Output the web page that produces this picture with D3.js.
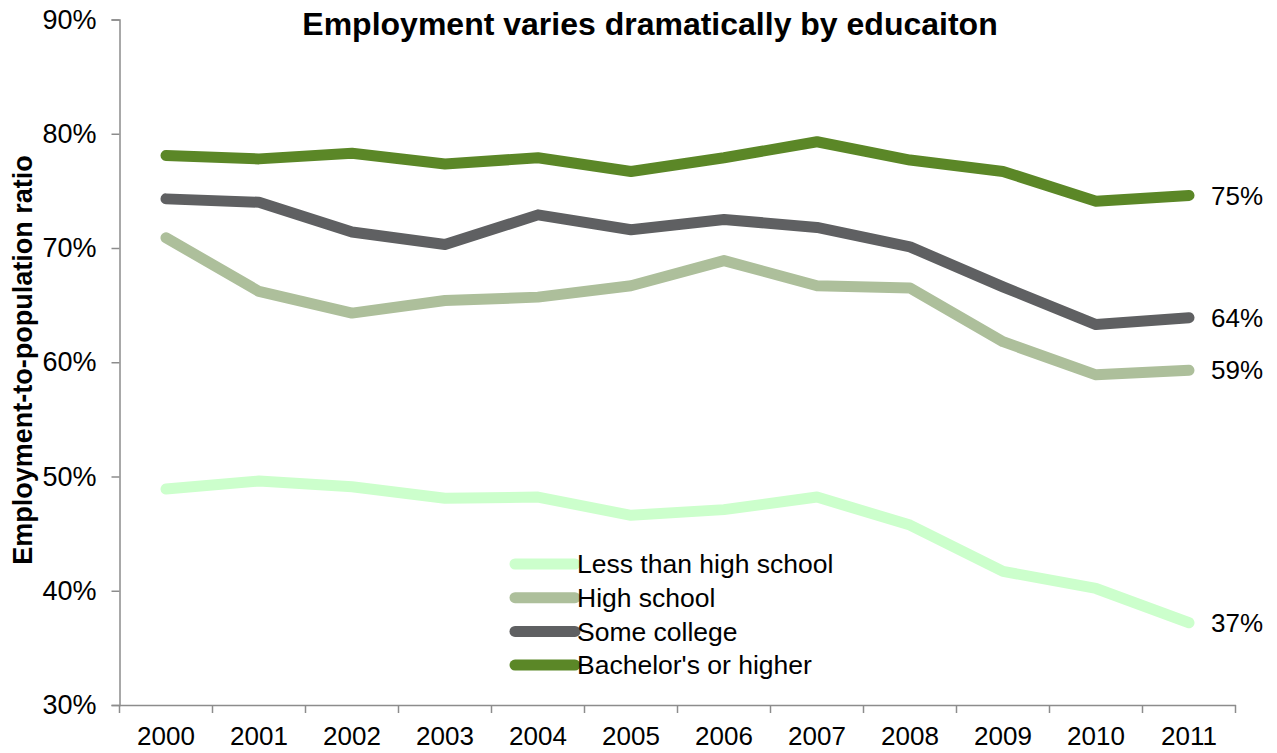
<!DOCTYPE html>
<html>
<head>
<meta charset="utf-8">
<script src="https://cdn.jsdelivr.net/npm/d3@7"></script>
<style>
  html, body { margin: 0; padding: 0; background: #fff; }
  svg { display: block; font-family: "Liberation Sans", Arial, sans-serif; }
</style>
</head>
<body>
<svg id="chart" width="1277" height="753"></svg>
<script>
// Employment-to-population ratio by educational attainment, 2000–2011
const years = ["2000", "2001", "2002", "2003", "2004", "2005", "2006", "2007", "2008", "2009", "2010", "2011"];

const lessThanHighSchool = [0.489, 0.496, 0.491, 0.481, 0.482, 0.466, 0.471, 0.482, 0.4575, 0.417, 0.402, 0.372];
const highSchool         = [0.709, 0.662, 0.643, 0.654, 0.657, 0.667, 0.689, 0.667, 0.665, 0.618, 0.589, 0.593];
const someCollege        = [0.743, 0.740, 0.714, 0.703, 0.729, 0.716, 0.725, 0.718, 0.701, 0.666, 0.633, 0.639];
const bachelorsOrHigher  = [0.781, 0.778, 0.783, 0.7735, 0.779, 0.767, 0.779, 0.793, 0.777, 0.767, 0.741, 0.746];

const seriesNames  = ["Less than high school", "High school", "Some college", "Bachelor's or higher"];
const seriesValues = [lessThanHighSchool, highSchool, someCollege, bachelorsOrHigher];
const seriesColors = ["#ccffcc", "#adbf9b", "#5f6062", "#5b8727"];

const yTicks = [0.3, 0.4, 0.5, 0.6, 0.7, 0.8, 0.9];

const chartTitle = "Employment varies dramatically by educaiton";
const yAxisTitle = "Employment-to-population ratio";

const svg = d3.select("#chart");

const x = d3.scaleBand().domain(years).range([119.5, 1235.5]);
const y = d3.scaleLinear().domain([0.3, 0.9]).range([705, 19.5]);
const cx = d => x(d) + x.bandwidth() / 2;

const axisColor = "#8c8c8c";
const fontSize = 26;

// Y axis
const yAxis = svg.append("g")
  .attr("transform", `translate(${x.range()[0]},0)`)
  .call(d3.axisLeft(y).tickValues(yTicks).tickSize(8).tickPadding(15).tickFormat(d3.format(".0%")));
yAxis.select(".domain").attr("stroke", axisColor).attr("stroke-width", 1.5);
yAxis.selectAll(".tick line").attr("stroke", axisColor).attr("stroke-width", 1.5);
yAxis.selectAll(".tick text").attr("font-size", 27).attr("fill", "#000")
  .attr("font-family", "Liberation Sans, Arial, sans-serif");

// X axis: labels centred on each year, tick marks on band boundaries
const xAxis = svg.append("g")
  .attr("transform", `translate(0,${y(0.3)})`)
  .call(d3.axisBottom(x).tickSize(0).tickPadding(22));
xAxis.select(".domain").attr("stroke", axisColor).attr("stroke-width", 1.5);
xAxis.selectAll(".tick text").attr("font-size", fontSize).attr("fill", "#000")
  .attr("font-family", "Liberation Sans, Arial, sans-serif");
const boundaries = years.map(d => x(d)).concat([x.range()[1]]);
xAxis.selectAll("line.boundary")
  .data(boundaries)
  .join("line")
  .attr("class", "boundary")
  .attr("x1", d => d).attr("x2", d => d)
  .attr("y1", 0).attr("y2", 8)
  .attr("stroke", axisColor).attr("stroke-width", 1.5);

// Series lines
const line = d3.line()
  .x((v, i) => cx(years[i]))
  .y(v => y(v));

svg.append("g")
  .selectAll("path")
  .data(seriesValues)
  .join("path")
  .attr("d", d => line(d))
  .attr("fill", "none")
  .attr("stroke", (d, i) => seriesColors[i])
  .attr("stroke-width", 11)
  .attr("stroke-linecap", "round")
  .attr("stroke-linejoin", "round");

// End-of-line value labels
const last = years.length - 1;
svg.append("g")
  .selectAll("text")
  .data(seriesValues)
  .join("text")
  .attr("x", cx(years[last]) + 22)
  .attr("y", d => y(d[last]))
  .attr("dy", "0.35em")
  .attr("font-size", fontSize)
  .attr("fill", "#000")
  .text(d => d3.format(".0%")(d[last]));

// Legend
const legend = svg.append("g").attr("transform", "translate(515,564)");
const rows = legend.selectAll("g")
  .data(seriesNames)
  .join("g")
  .attr("transform", (d, i) => `translate(0,${i * 33.7})`);
rows.append("line")
  .attr("x1", 0).attr("x2", 60)
  .attr("y1", 0).attr("y2", 0)
  .attr("stroke", (d, i) => seriesColors[i])
  .attr("stroke-width", 11)
  .attr("stroke-linecap", "round");
rows.append("text")
  .attr("x", 62)
  .attr("y", 0)
  .attr("dy", "0.35em")
  .attr("font-size", 26.5)
  .attr("fill", "#000")
  .text(d => d);

// Title
svg.append("text")
  .attr("x", 650)
  .attr("y", 35)
  .attr("text-anchor", "middle")
  .attr("font-size", 32)
  .attr("font-weight", "bold")
  .attr("fill", "#000")
  .text(chartTitle);

// Y axis title
svg.append("text")
  .attr("transform", "translate(32,360) rotate(-90)")
  .attr("text-anchor", "middle")
  .attr("font-size", 27)
  .attr("font-weight", "bold")
  .attr("fill", "#000")
  .text(yAxisTitle);
</script>
</body>
</html>
